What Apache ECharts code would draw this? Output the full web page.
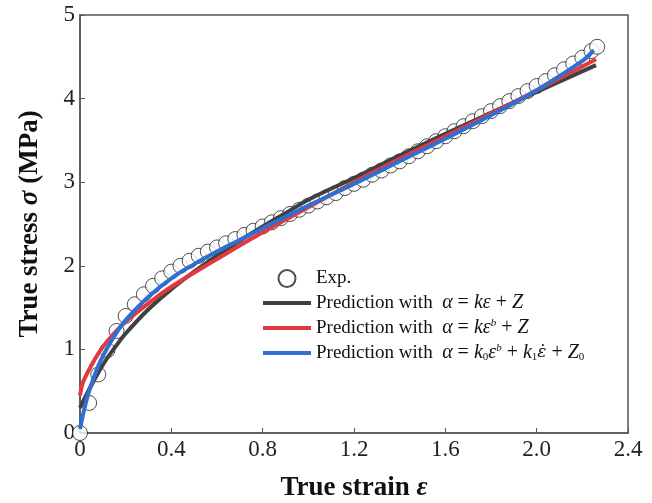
<!DOCTYPE html>
<html>
<head>
<meta charset="utf-8">
<script src="https://cdn.jsdelivr.net/npm/echarts@6/dist/echarts.min.js"></script>
<style>
html,body{margin:0;padding:0;background:#fff;}
#chart{width:652px;height:503px;}
</style>
</head>
<body>
<div id="chart"></div>
<script>
// Measured stress-strain points
const expStrain = [0.00,0.04,0.08,0.12,0.16,0.20,0.24,0.28,0.32,0.36,0.40,0.44,0.48,0.52,0.56,0.60,0.64,0.68,0.72,0.76,0.80,0.84,0.88,0.92,0.96,1.00,1.04,1.08,1.12,1.16,1.20,1.24,1.28,1.32,1.36,1.40,1.44,1.48,1.52,1.56,1.60,1.64,1.68,1.72,1.76,1.80,1.84,1.88,1.92,1.96,2.00,2.04,2.08,2.12,2.16,2.20,2.24,2.265];
const expStress = [0.00,0.36,0.70,0.99,1.22,1.40,1.54,1.66,1.76,1.85,1.93,2.00,2.06,2.12,2.17,2.22,2.27,2.32,2.37,2.42,2.47,2.52,2.57,2.62,2.67,2.72,2.77,2.82,2.87,2.93,2.98,3.03,3.09,3.14,3.20,3.25,3.31,3.37,3.43,3.49,3.55,3.61,3.67,3.73,3.79,3.85,3.91,3.97,4.03,4.09,4.15,4.21,4.28,4.35,4.42,4.49,4.57,4.62];

// Model predictions
const linStrain = [0,0.04,0.08,0.12,0.16,0.2,0.3,0.4,0.5,0.6,0.7,0.8,0.9,1.0,1.2,1.4,1.6,1.8,2.0,2.26];
const linStress = [0.30,0.52,0.72,0.90,1.05,1.19,1.48,1.72,1.93,2.12,2.30,2.47,2.63,2.79,3.05,3.32,3.58,3.83,4.08,4.40];

const powStrain = [0,0.01,0.02,0.04,0.08,0.12,0.2,0.3,0.4,0.6,0.8,1.0,1.2,1.4,1.6,1.8,2.0,2.26];
const powStress = [0.45,0.58,0.65,0.76,0.95,1.10,1.33,1.55,1.75,2.08,2.40,2.70,3.00,3.28,3.55,3.82,4.10,4.47];

const fullStrain = [0,0.01,0.02,0.04,0.08,0.12,0.16,0.2,0.3,0.4,0.5,0.6,0.7,0.8,1.0,1.2,1.4,1.6,1.8,2.0,2.2,2.25];
const fullStress = [0.05,0.18,0.30,0.50,0.80,1.02,1.20,1.35,1.63,1.85,2.02,2.17,2.31,2.45,2.72,2.98,3.25,3.52,3.80,4.10,4.45,4.58];

const xTicks = [0,0.4,0.8,1.2,1.6,2.0,2.4];
const yTicks = [0,1,2,3,4,5];

const zip = (a,b) => a.map((v,i)=>[v,b[i]]);
const serif = 'Liberation Serif';
const ink = '#111';

const chart = echarts.init(document.getElementById('chart'), null, {renderer:'canvas'});

// rich-text pieces for the legend formulas
const richLegend = {
  t: {fontFamily: serif, fontSize: 19, color: ink},
  r: {fontFamily: serif, fontSize: 20, color: ink},
  i: {fontFamily: serif, fontSize: 20, fontStyle: 'italic', color: ink},
  dot: {fontFamily: 'DejaVu Serif', fontSize: 17, fontStyle: 'italic', color: ink},
  s: {fontFamily: serif, fontSize: 11, fontStyle: 'italic', color: ink, verticalAlign: 'top'},
  d: {fontFamily: serif, fontSize: 11, color: ink, verticalAlign: 'bottom'}
};

const legendNames = {
  exp: 'Exp.',
  lin: 'Prediction with  α = kε + Z',
  pow: 'Prediction with  α = kε^b + Z',
  full: 'Prediction with  α = k0ε^b + k1ε̇ + Z0'
};
const legendRich = {
  [legendNames.exp]: '{t|Exp.}',
  [legendNames.lin]: '{t|Prediction with  }{i|α}{r| = }{i|kε}{r| + }{i|Z}',
  [legendNames.pow]: '{t|Prediction with  }{i|α}{r| = }{i|kε}{s|b}{r| + }{i|Z}',
  [legendNames.full]: '{t|Prediction with  }{i|α}{r| = }{i|k}{d|0}{i|ε}{s|b}{r| + }{i|k}{d|1}{dot|ε̇}{r| + }{i|Z}{d|0}'
};
const lineIcon = 'path://M0 0H48V4H0Z';

chart.setOption({
  animation: false,
  backgroundColor: '#fff',
  grid: {left: 80, right: 24, top: 15, bottom: 70, outerBoundsMode: 'none', containLabel: false,
    show: true, borderColor: '#555', borderWidth: 1.5, backgroundColor: 'transparent'},
  xAxis: {
    type: 'value', min: 0, max: 2.4, interval: 0.4,
    name: '{b|True strain }{e|ε}',
    nameLocation: 'middle', nameGap: 42,
    nameTextStyle: {rich: {
      b: {fontFamily: serif, fontSize: 27, fontWeight: 'bold', color: ink},
      e: {fontFamily: serif, fontSize: 27, fontWeight: 'bold', fontStyle: 'italic', color: ink}
    }},
    axisLine: {show: true, lineStyle: {color: '#555', width: 1.5}},
    axisTick: {show: true, inside: true, length: 5, lineStyle: {color: '#555', width: 1}},
    splitLine: {show: false},
    axisLabel: {fontFamily: serif, fontSize: 23, color: '#222', margin: 5,
      formatter: v => (v === 0 ? '0' : v.toFixed(1))}
  },
  yAxis: {
    type: 'value', min: 0, max: 5, interval: 1,
    name: '{b|True stress }{s|σ}{b| (MPa)}',
    nameLocation: 'middle', nameGap: 36,
    nameTextStyle: {rich: {
      b: {fontFamily: serif, fontSize: 27, fontWeight: 'bold', color: ink},
      s: {fontFamily: serif, fontSize: 27, fontWeight: 'bold', fontStyle: 'italic', color: ink}
    }},
    axisLine: {show: true, lineStyle: {color: '#555', width: 1.5}},
    axisTick: {show: true, inside: true, length: 5, lineStyle: {color: '#555', width: 1}},
    splitLine: {show: false},
    axisLabel: {fontFamily: serif, fontSize: 23, color: '#222', margin: 5}
  },
  legend: {
    orient: 'vertical', left: 263, top: 269, itemGap: 5, padding: 0,
    itemWidth: 48, itemHeight: 17,
    data: [
      {name: legendNames.exp, icon: 'circle'},
      {name: legendNames.lin, icon: lineIcon},
      {name: legendNames.pow, icon: lineIcon},
      {name: legendNames.full, icon: lineIcon}
    ],
    formatter: n => legendRich[n],
    textStyle: {rich: richLegend}
  },
  series: [
    {name: legendNames.exp, type: 'scatter', data: zip(expStrain, expStress), symbol: 'circle', symbolSize: 15,
      itemStyle: {color: '#fff', borderColor: '#222', borderWidth: 1}, z: 1},
    {name: legendNames.lin, type: 'line', data: zip(linStrain, linStress), symbol: 'none', smooth: 0.4,
      lineStyle: {color: '#404040', width: 4}, itemStyle: {color: '#404040'}, z: 2},
    {name: legendNames.pow, type: 'line', data: zip(powStrain, powStress), symbol: 'none', smooth: 0.4,
      lineStyle: {color: '#e2393f', width: 4}, itemStyle: {color: '#e2393f'}, z: 3},
    {name: legendNames.full, type: 'line', data: zip(fullStrain, fullStress), symbol: 'none', smooth: 0.4,
      lineStyle: {color: '#2f6fd1', width: 4}, itemStyle: {color: '#2f6fd1'}, z: 4}
  ]
});
</script>
</body>
</html>
